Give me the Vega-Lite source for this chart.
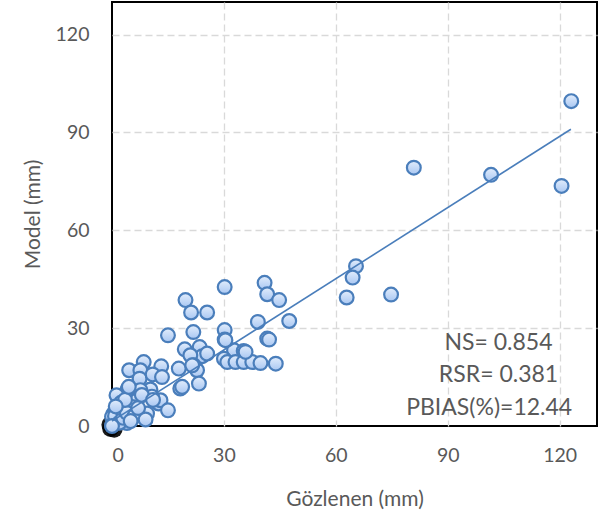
{
  "$schema": "https://vega.github.io/schema/vega-lite/v6.json",
  "autosize": {"type": "none"},
  "width": 485,
  "height": 424,
  "padding": {"left": 112, "top": 2, "right": 16, "bottom": 98},
  "background": "white",
  "config": {
    "view": {"stroke": "black", "strokeWidth": 2},
    "font": "Lato",
    "axis": {
      "domain": false,
      "ticks": false,
      "grid": true,
      "gridColor": "#d9d9d9",
      "gridDash": [7, 4],
      "gridWidth": 1.3,
      "gridOpacity": {"condition": {"test": "datum.value === 0", "value": 0}, "value": 1},
      "labelColor": "#595959",
      "titleColor": "#595959",
      "labelFont": "Lato",
      "titleFont": "Lato",
      "labelFontSize": 19.5,
      "titleFontSize": 21,
      "titleFontWeight": "normal"
    }
  },
  "datasets": {
    "pts": [
      {"obs": 123.1, "mod": 99.6}, {"obs": 101.6, "mod": 77.0}, {"obs": 120.5, "mod": 73.6}, {"obs": 80.9, "mod": 79.2},
      {"obs": 65.4, "mod": 49.0}, {"obs": 64.5, "mod": 45.5}, {"obs": 62.9, "mod": 39.4}, {"obs": 74.8, "mod": 40.3},
      {"obs": 30.2, "mod": 42.6}, {"obs": 40.9, "mod": 43.9}, {"obs": 41.6, "mod": 40.4}, {"obs": 44.8, "mod": 38.6},
      {"obs": 19.7, "mod": 38.6}, {"obs": 21.2, "mod": 34.8}, {"obs": 25.5, "mod": 34.8}, {"obs": 39.1, "mod": 31.9},
      {"obs": 47.5, "mod": 32.2}, {"obs": 15.0, "mod": 27.8}, {"obs": 21.8, "mod": 28.8}, {"obs": 30.2, "mod": 29.4},
      {"obs": 30.2, "mod": 26.5}, {"obs": 41.6, "mod": 26.8}, {"obs": 42.1, "mod": 26.5}, {"obs": 19.5, "mod": 23.5},
      {"obs": 23.5, "mod": 24.2}, {"obs": 24.2, "mod": 21.4}, {"obs": 25.5, "mod": 22.2}, {"obs": 21.0, "mod": 21.7},
      {"obs": 32.7, "mod": 23.2}, {"obs": 35.3, "mod": 23.0}, {"obs": 30.0, "mod": 20.6}, {"obs": 30.9, "mod": 19.6},
      {"obs": 33.1, "mod": 19.6}, {"obs": 35.3, "mod": 19.6}, {"obs": 37.6, "mod": 19.6}, {"obs": 39.8, "mod": 19.3},
      {"obs": 43.9, "mod": 19.1}, {"obs": 8.5, "mod": 19.6}, {"obs": 13.2, "mod": 18.3}, {"obs": 4.6, "mod": 17.1},
      {"obs": 7.6, "mod": 17.1}, {"obs": 17.9, "mod": 17.6}, {"obs": 21.9, "mod": 18.6}, {"obs": 22.8, "mod": 17.1},
      {"obs": 7.4, "mod": 14.5}, {"obs": 10.9, "mod": 15.8}, {"obs": 13.4, "mod": 15.0}, {"obs": 18.3, "mod": 11.5},
      {"obs": 23.3, "mod": 13.0}, {"obs": 4.2, "mod": 11.3}, {"obs": 10.3, "mod": 11.2}, {"obs": 1.2, "mod": 9.4},
      {"obs": 2.4, "mod": 7.1}, {"obs": 6.7, "mod": 7.9}, {"obs": 12.5, "mod": 6.9}, {"obs": 13.0, "mod": 7.9},
      {"obs": 15.0, "mod": 4.8}, {"obs": 9.4, "mod": 3.8}, {"obs": 0.4, "mod": 3.8}, {"obs": 4.0, "mod": 0.9},
      {"obs": 0.0, "mod": 0.2}, {"obs": 5.8, "mod": 4.8}, {"obs": 5.4, "mod": 5.8}, {"obs": 7.6, "mod": 11.0},
      {"obs": 10.7, "mod": 9.0}, {"obs": 0.0, "mod": 2.8}, {"obs": 30.4, "mod": 26.3}, {"obs": 18.8, "mod": 12.0},
      {"obs": 21.5, "mod": 18.6}, {"obs": 35.8, "mod": 22.7}, {"obs": 0.3, "mod": 0.5}, {"obs": 1.0, "mod": 1.2},
      {"obs": 1.5, "mod": 2.0}, {"obs": 0.8, "mod": 3.0}, {"obs": 2.0, "mod": 1.0}, {"obs": 3.0, "mod": 2.5},
      {"obs": 2.2, "mod": 5.5}, {"obs": 4.0, "mod": 4.0}, {"obs": 3.5, "mod": 8.0}, {"obs": 1.0, "mod": 6.0},
      {"obs": 6.0, "mod": 3.0}, {"obs": 7.0, "mod": 5.5}, {"obs": 9.0, "mod": 2.0}, {"obs": 5.0, "mod": 1.5},
      {"obs": 8.0, "mod": 9.5}, {"obs": 11.0, "mod": 8.0}, {"obs": 4.5, "mod": 12.0}, {"obs": 0.0, "mod": 0.0}
    ],
    "origin": [{"obs": -0.4, "mod": -0.8}, {"obs": 0.6, "mod": -1.0}, {"obs": -0.6, "mod": 0.4}],
    "trend": [{"obs": 0, "mod": 1.5}, {"obs": 123, "mod": 91}],
    "stats": [
      {"obs": 103.6, "mod": 25.5, "label": "NS= 0.854"},
      {"obs": 103.6, "mod": 15.6, "label": "RSR= 0.381"},
      {"obs": 101.1, "mod": 5.6, "label": "PBIAS(%)=12.44"}
    ]
  },
  "encoding": {
    "x": {"field": "obs", "type": "quantitative", "scale": {"domain": [0, 130], "nice": false, "zero": false},
      "axis": {"values": [0, 30, 60, 90, 120], "title": "Gözlenen (mm)", "labelPadding": 20, "titlePadding": 24}},
    "y": {"field": "mod", "type": "quantitative", "scale": {"domain": [0, 130], "nice": false, "zero": false},
      "axis": {"values": [0, 30, 60, 90, 120], "title": "Model (mm)", "labelPadding": 23, "titlePadding": 12}}
  },
  "layer": [
    {"data": {"name": "origin"}, "mark": {"type": "point", "filled": true, "color": "black", "size": 280, "opacity": 0.9, "clip": false}},
    {"data": {"name": "pts"}, "mark": {"type": "point", "filled": true, "size": 190, "opacity": 1, "strokeWidth": 2.2, "stroke": "#4a7ebb",
      "fill": {"gradient": "linear", "x1": 0, "y1": 0, "x2": 0, "y2": 1, "stops": [{"offset": 0, "color": "#e2edfc"}, {"offset": 1, "color": "#a9c7f2"}]}, "clip": false}},
    {"data": {"name": "trend"}, "mark": {"type": "line", "color": "#4a7ebb", "strokeWidth": 1.6}},
    {"data": {"name": "stats"}, "mark": {"type": "text", "font": "Lato", "fontSize": 23, "color": "#595959", "align": "center", "baseline": "middle"},
      "encoding": {"text": {"field": "label"}}}
  ]
}
